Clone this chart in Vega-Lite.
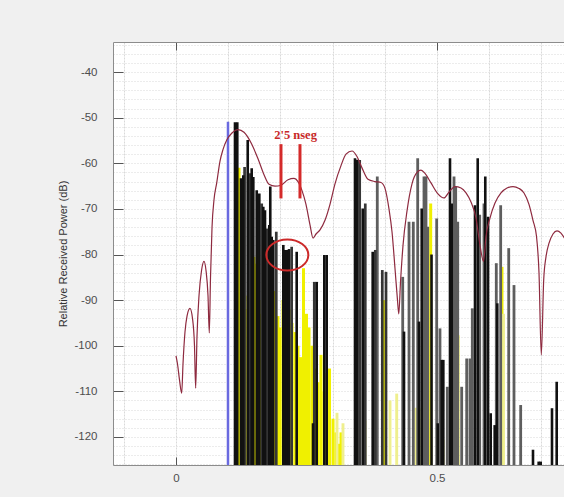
{
  "$schema": "https://vega.github.io/schema/vega-lite/v6.json",
  "width": 451,
  "height": 423,
  "autosize": "none",
  "padding": {"left": 113, "top": 42, "right": 0, "bottom": 32},
  "background": "#f0f0f0",
  "config": {"view": {"fill": "#ffffff", "stroke": null}, "font": "Liberation Sans"},
  "datasets": {
    "bars": [
      {"x": 0.1207, "v": -61, "c": "y"}, {"x": 0.1264, "v": -90, "c": "y"}, {"x": 0.1322, "v": -92, "c": "y"},
      {"x": 0.1379, "v": -89, "c": "y"}, {"x": 0.1437, "v": -93, "c": "y"}, {"x": 0.1494, "v": -80.5, "c": "y"},
      {"x": 0.1542, "v": -82, "c": "y"}, {"x": 0.1590, "v": -90, "c": "y"}, {"x": 0.1628, "v": -93, "c": "y"},
      {"x": 0.1686, "v": -87, "c": "y"}, {"x": 0.1734, "v": -95, "c": "y"}, {"x": 0.1782, "v": -92, "c": "y"},
      {"x": 0.1839, "v": -97, "c": "y"}, {"x": 0.1897, "v": -88, "c": "y"}, {"x": 0.1954, "v": -93.5, "c": "y"},
      {"x": 0.1992, "v": -96, "c": "y"}, {"x": 0.2050, "v": -90, "c": "y"}, {"x": 0.2107, "v": -91, "c": "y"},
      {"x": 0.2165, "v": -92, "c": "y"}, {"x": 0.2222, "v": -95, "c": "y"}, {"x": 0.2280, "v": -97, "c": "y"},
      {"x": 0.2337, "v": -100, "c": "y"}, {"x": 0.2385, "v": -102.5, "c": "y"}, {"x": 0.2443, "v": -83, "c": "y"},
      {"x": 0.2500, "v": -93, "c": "y"}, {"x": 0.2548, "v": -96, "c": "y"}, {"x": 0.2605, "v": -100, "c": "y"},
      {"x": 0.2663, "v": -105, "c": "y"}, {"x": 0.2720, "v": -108, "c": "y"}, {"x": 0.2778, "v": -102, "c": "y"},
      {"x": 0.2835, "v": -110, "c": "y"}, {"x": 0.2893, "v": -106, "c": "y"}, {"x": 0.2941, "v": -105, "c": "y"},
      {"x": 0.3008, "v": -116, "c": "y"}, {"x": 0.3065, "v": -119, "c": "y"}, {"x": 0.3113, "v": -121.5, "c": "y"},
      {"x": 0.3161, "v": -119, "c": "y"}, {"x": 0.3975, "v": -90, "c": "y"}, {"x": 0.4879, "v": -68.8, "c": "y"},
      {"x": 0.5400, "v": -97.7, "c": "y"}, {"x": 0.6245, "v": -82.7, "c": "y"},
      {"x": 0.3084, "v": -114.7, "c": "p"}, {"x": 0.3199, "v": -117, "c": "p"}, {"x": 0.3462, "v": -117.7, "c": "p"},
      {"x": 0.3621, "v": -116.4, "c": "p"}, {"x": 0.4100, "v": -112, "c": "p"}, {"x": 0.4228, "v": -110.5, "c": "p"},
      {"x": 0.4598, "v": -113.6, "c": "p"}, {"x": 0.4713, "v": -113.7, "c": "p"}, {"x": 0.5115, "v": -120.6, "c": "p"},
      {"x": 0.6274, "v": -93, "c": "p"},
      {"x": 0.3856, "v": -62.9, "c": "l"}, {"x": 0.4343, "v": -84.9, "c": "l"}, {"x": 0.4464, "v": -72.8, "c": "l"},
      {"x": 0.4546, "v": -72.8, "c": "l"}, {"x": 0.4630, "v": -58.9, "c": "l"}, {"x": 0.4751, "v": -62.9, "c": "l"},
      {"x": 0.4789, "v": -62.9, "c": "l"}, {"x": 0.4822, "v": -73.9, "c": "l"}, {"x": 0.4994, "v": -72.1, "c": "l"},
      {"x": 0.5057, "v": -96.2, "c": "l"}, {"x": 0.5197, "v": -109, "c": "l"}, {"x": 0.5326, "v": -62.9, "c": "l"},
      {"x": 0.5358, "v": -65.1, "c": "l"}, {"x": 0.5397, "v": -72.8, "c": "l"}, {"x": 0.5473, "v": -109, "c": "l"},
      {"x": 0.5569, "v": -102.8, "c": "l"}, {"x": 0.5632, "v": -102.8, "c": "l"}, {"x": 0.5676, "v": -91.8, "c": "l"},
      {"x": 0.5818, "v": -71.3, "c": "l"}, {"x": 0.5900, "v": -68.8, "c": "l"}, {"x": 0.6136, "v": -81.9, "c": "l"},
      {"x": 0.6220, "v": -69.2, "c": "l"}, {"x": 0.6374, "v": -78.6, "c": "l"}, {"x": 0.6475, "v": -86.7, "c": "l"},
      {"x": 0.6603, "v": -113, "c": "l"},
      {"x": 0.1314, "v": -60.8, "c": "g"}, {"x": 0.1418, "v": -62.2, "c": "g"}, {"x": 0.1642, "v": -68.8, "c": "g"},
      {"x": 0.1749, "v": -74.3, "c": "g"}, {"x": 0.1921, "v": -75, "c": "g"}, {"x": 0.2216, "v": -78.3, "c": "g"},
      {"x": 0.2649, "v": -86, "c": "g"}, {"x": 0.3519, "v": -59.3, "c": "g"}, {"x": 0.3626, "v": -68.8, "c": "g"},
      {"x": 0.3818, "v": -79, "c": "g"}, {"x": 0.3952, "v": -83.4, "c": "g"}, {"x": 0.4023, "v": -83.8, "c": "g"},
      {"x": 0.1130, "v": -51, "c": "k"}, {"x": 0.1174, "v": -51, "c": "k"}, {"x": 0.1245, "v": -63.3, "c": "k"},
      {"x": 0.1289, "v": -62.6, "c": "k"}, {"x": 0.1374, "v": -54.9, "c": "k"}, {"x": 0.1450, "v": -61.1, "c": "k"},
      {"x": 0.1481, "v": -63, "c": "k"}, {"x": 0.1546, "v": -65.9, "c": "k"}, {"x": 0.1596, "v": -66.6, "c": "k"},
      {"x": 0.1672, "v": -69.5, "c": "k"}, {"x": 0.1705, "v": -70.3, "c": "k"}, {"x": 0.1787, "v": -73.5, "c": "k"},
      {"x": 0.1806, "v": -65.1, "c": "k"}, {"x": 0.1833, "v": -76.1, "c": "k"}, {"x": 0.1864, "v": -76.8, "c": "k"},
      {"x": 0.2056, "v": -77.9, "c": "k"}, {"x": 0.2088, "v": -79, "c": "k"}, {"x": 0.2126, "v": -79, "c": "k"},
      {"x": 0.2165, "v": -78.8, "c": "k"}, {"x": 0.2312, "v": -79.4, "c": "k"}, {"x": 0.2625, "v": -117, "c": "k"},
      {"x": 0.2695, "v": -86, "c": "k"}, {"x": 0.2841, "v": -80.1, "c": "k"}, {"x": 0.2887, "v": -80.1, "c": "k"},
      {"x": 0.3429, "v": -58.9, "c": "k"}, {"x": 0.3473, "v": -59.2, "c": "k"}, {"x": 0.3577, "v": -69.9, "c": "k"},
      {"x": 0.3768, "v": -79.4, "c": "k"}, {"x": 0.4368, "v": -96.9, "c": "k"}, {"x": 0.4655, "v": -94.7, "c": "k"},
      {"x": 0.4707, "v": -69.9, "c": "k"}, {"x": 0.4895, "v": -80, "c": "k"}, {"x": 0.5014, "v": -117, "c": "k"},
      {"x": 0.5090, "v": -103.1, "c": "k"}, {"x": 0.5121, "v": -103.1, "c": "k"}, {"x": 0.5249, "v": -58.9, "c": "k"},
      {"x": 0.5282, "v": -68.8, "c": "k"}, {"x": 0.5728, "v": -69.2, "c": "k"}, {"x": 0.5780, "v": -58.9, "c": "k"},
      {"x": 0.5925, "v": -62.9, "c": "k"}, {"x": 0.5977, "v": -71.7, "c": "k"}, {"x": 0.6029, "v": -114.8, "c": "k"},
      {"x": 0.6105, "v": -117.4, "c": "k"}, {"x": 0.6155, "v": -90.7, "c": "k"}, {"x": 0.6839, "v": -122.8, "c": "k"},
      {"x": 0.6948, "v": -125.4, "c": "k"}, {"x": 0.6987, "v": -125.4, "c": "k"}, {"x": 0.7203, "v": -113.7, "c": "k"},
      {"x": 0.7293, "v": -107.9, "c": "k"},
      {"x": 0.0996, "v": -50.9, "c": "b"}
    ],
    "curve": [
      {"x": 0.0000, "v": -102.2}, {"x": 0.0029, "v": -104}, {"x": 0.0067, "v": -107.5}, {"x": 0.0109, "v": -110.4},
      {"x": 0.0134, "v": -104}, {"x": 0.0172, "v": -97}, {"x": 0.0211, "v": -93.5}, {"x": 0.0268, "v": -91.8},
      {"x": 0.0316, "v": -94}, {"x": 0.0354, "v": -100}, {"x": 0.0377, "v": -109.3}, {"x": 0.0402, "v": -98},
      {"x": 0.0441, "v": -89}, {"x": 0.0489, "v": -83.5}, {"x": 0.0536, "v": -81.5}, {"x": 0.0575, "v": -83.5},
      {"x": 0.0613, "v": -89}, {"x": 0.0638, "v": -97.2}, {"x": 0.0661, "v": -85}, {"x": 0.0690, "v": -74},
      {"x": 0.0728, "v": -68}, {"x": 0.0780, "v": -64.3}, {"x": 0.0843, "v": -59.5}, {"x": 0.0900, "v": -57},
      {"x": 0.0977, "v": -54.8}, {"x": 0.1067, "v": -53.4}, {"x": 0.1188, "v": -52.6}, {"x": 0.1303, "v": -53.2},
      {"x": 0.1437, "v": -55.5}, {"x": 0.1571, "v": -59}, {"x": 0.1686, "v": -62.5}, {"x": 0.1782, "v": -64.6},
      {"x": 0.1897, "v": -65}, {"x": 0.2011, "v": -64.8}, {"x": 0.2146, "v": -63.6}, {"x": 0.2261, "v": -63.3},
      {"x": 0.2337, "v": -64}, {"x": 0.2414, "v": -66}, {"x": 0.2490, "v": -69}, {"x": 0.2567, "v": -73.5},
      {"x": 0.2625, "v": -76.4}, {"x": 0.2682, "v": -75.5}, {"x": 0.2759, "v": -74.6}, {"x": 0.2854, "v": -72.5},
      {"x": 0.2950, "v": -69}, {"x": 0.3046, "v": -64.5}, {"x": 0.3161, "v": -60.5}, {"x": 0.3257, "v": -58},
      {"x": 0.3372, "v": -57.3}, {"x": 0.3467, "v": -58.5}, {"x": 0.3563, "v": -61}, {"x": 0.3678, "v": -63.5},
      {"x": 0.3812, "v": -64}, {"x": 0.3927, "v": -64.2}, {"x": 0.4004, "v": -65.5}, {"x": 0.4080, "v": -70},
      {"x": 0.4138, "v": -75}, {"x": 0.4195, "v": -83}, {"x": 0.4243, "v": -90}, {"x": 0.4268, "v": -93},
      {"x": 0.4301, "v": -86}, {"x": 0.4349, "v": -78}, {"x": 0.4425, "v": -70.5}, {"x": 0.4521, "v": -64.5},
      {"x": 0.4617, "v": -62}, {"x": 0.4693, "v": -61.5}, {"x": 0.4770, "v": -62.2}, {"x": 0.4885, "v": -64.3},
      {"x": 0.5019, "v": -66.7}, {"x": 0.5134, "v": -67.6}, {"x": 0.5230, "v": -66.3}, {"x": 0.5345, "v": -65.1},
      {"x": 0.5460, "v": -65.4}, {"x": 0.5556, "v": -66.5}, {"x": 0.5651, "v": -68.5}, {"x": 0.5747, "v": -72},
      {"x": 0.5824, "v": -78}, {"x": 0.5891, "v": -81.5}, {"x": 0.5939, "v": -76}, {"x": 0.6015, "v": -72},
      {"x": 0.6111, "v": -68.7}, {"x": 0.6226, "v": -66.5}, {"x": 0.6341, "v": -65.4}, {"x": 0.6456, "v": -65.1},
      {"x": 0.6571, "v": -65.5}, {"x": 0.6667, "v": -66.5}, {"x": 0.6762, "v": -69}, {"x": 0.6839, "v": -72.5},
      {"x": 0.6906, "v": -76}, {"x": 0.6954, "v": -84}, {"x": 0.6998, "v": -102}, {"x": 0.7044, "v": -85.6},
      {"x": 0.7088, "v": -80.5}, {"x": 0.7146, "v": -77.5}, {"x": 0.7222, "v": -75.5}, {"x": 0.7299, "v": -74.8},
      {"x": 0.7375, "v": -75.3}, {"x": 0.7471, "v": -77}
    ]
  },
  "layer": [
    {
      "data": {"name": "bars"},
      "mark": {"type": "rule", "clip": true},
      "encoding": {
        "x": {
          "field": "x", "type": "quantitative",
          "scale": {"domain": [-0.1207, 0.7433], "nice": false, "zero": false},
          "axis": {
            "orient": "bottom",
            "values": [-0.1, 0, 0.1, 0.2, 0.3, 0.4, 0.5, 0.6, 0.7],
            "labelExpr": "abs(datum.value) < 0.001 ? '0' : (abs(datum.value - 0.5) < 0.001 ? '0.5' : '')",
            "labelOverlap": false, "labelFlush": false,
            "grid": true, "gridColor": "#d9d9d9", "gridDash": [2, 1], "gridWidth": 1,
            "domainColor": "#8c8c8c",
            "tickColor": "#555555", "tickSize": -8,
            "tickOpacity": {"condition": {"test": "abs(datum.value) < 0.001 || abs(datum.value - 0.5) < 0.001", "value": 1}, "value": 0},
            "labelPadding": 15, "labelFont": "Liberation Sans", "labelFontSize": 11.5, "labelColor": "#4d4d4d",
            "title": null
          }
        },
        "y": {
          "field": "v", "type": "quantitative",
          "scale": {"domain": [-126.15, -33.4], "nice": false, "zero": false},
          "axis": {
            "orient": "left",
            "values": [-126, -124, -122, -120, -118, -116, -114, -112, -110, -108, -106, -104, -102, -100, -98, -96, -94, -92, -90, -88, -86, -84, -82, -80, -78, -76, -74, -72, -70, -68, -66, -64, -62, -60, -58, -56, -54, -52, -50, -48, -46, -44, -42, -40, -38, -36, -34],
            "labelExpr": "datum.value % 10 === 0 ? '' + datum.value : ''",
            "labelOverlap": false, "labelFlush": false,
            "grid": true, "gridColor": "#d8d8d8", "gridDash": [1, 2], "gridWidth": 1,
            "domainColor": "#8c8c8c",
            "tickColor": "#555555", "tickSize": -10,
            "tickOpacity": {"condition": {"test": "datum.value % 10 === 0", "value": 1}, "value": 0},
            "labelPadding": 26, "labelFont": "Liberation Sans", "labelFontSize": 11.5, "labelColor": "#4d4d4d",
            "title": "Relative Received Power (dB)", "titleFont": "Liberation Sans", "titleFontSize": 11,
            "titleFontWeight": "normal", "titleColor": "#333333", "titlePadding": 5
          }
        },
        "y2": {"datum": -130},
        "color": {
          "field": "c", "type": "nominal", "legend": null,
          "scale": {"domain": ["y", "p", "l", "g", "k", "b"], "range": ["#f0f000", "#efef8e", "#5e5e5e", "#363636", "#111111", "#6a6ae0"]}
        },
        "strokeWidth": {
          "field": "c", "type": "nominal", "legend": null,
          "scale": {"domain": ["y", "p", "l", "g", "k", "b"], "range": [3, 2.5, 2, 2, 1.8, 3]}
        }
      }
    },
    {
      "data": {"name": "curve"},
      "mark": {"type": "line", "color": "#8e2a3f", "strokeWidth": 1.2, "interpolate": "monotone", "clip": true},
      "encoding": {
        "x": {
          "field": "x", "type": "quantitative",
          "scale": {"domain": [-0.1207, 0.7433], "nice": false, "zero": false},
          "axis": {"orient": "top", "values": [0, 0.5], "labels": false, "grid": false, "tickSize": -8, "tickColor": "#555555", "domainColor": "#8c8c8c", "title": null}
        },
        "y": {"field": "v", "type": "quantitative", "scale": {"domain": [-126.15, -33.4], "nice": false, "zero": false}, "axis": null}
      }
    },
    {
      "mark": {"type": "rule", "color": "#78d4d4", "strokeWidth": 1.2},
      "encoding": {
        "x": {"datum": 0, "type": "quantitative", "axis": null},
        "x2": {"datum": 0.7433},
        "y": {"datum": -82, "type": "quantitative", "axis": null}
      }
    },
    {
      "data": {"values": [{"x": 0.2011}, {"x": 0.2375}]},
      "mark": {"type": "rule", "color": "#d42a2a", "strokeWidth": 3},
      "encoding": {
        "x": {"field": "x", "type": "quantitative", "axis": null},
        "y": {"datum": -55.8, "type": "quantitative", "axis": null},
        "y2": {"datum": -67.7}
      }
    },
    {
      "data": {"values": [{"x": 0.229, "v": -53.7, "t": "2'5 nseg"}]},
      "mark": {"type": "text", "font": "Liberation Serif", "fontWeight": "bold", "fontSize": 12.5, "color": "#c82828", "align": "center", "baseline": "middle"},
      "encoding": {
        "x": {"field": "x", "type": "quantitative", "axis": null},
        "y": {"field": "v", "type": "quantitative", "axis": null},
        "text": {"field": "t"}
      }
    },
    {
      "data": {"values": [{"x": 0.2133, "v": -80.1}]},
      "mark": {"type": "point", "shape": "M -1 0 A 1 0.74 0 1 0 1 0 A 1 0.74 0 1 0 -1 0 Z", "size": 1764, "filled": false, "stroke": "#cc2a2a", "strokeWidth": 2, "opacity": 1},
      "encoding": {
        "x": {"field": "x", "type": "quantitative", "axis": null},
        "y": {"field": "v", "type": "quantitative", "axis": null}
      }
    }
  ],
  "resolve": {"axis": {"x": "independent", "y": "independent"}}
}
